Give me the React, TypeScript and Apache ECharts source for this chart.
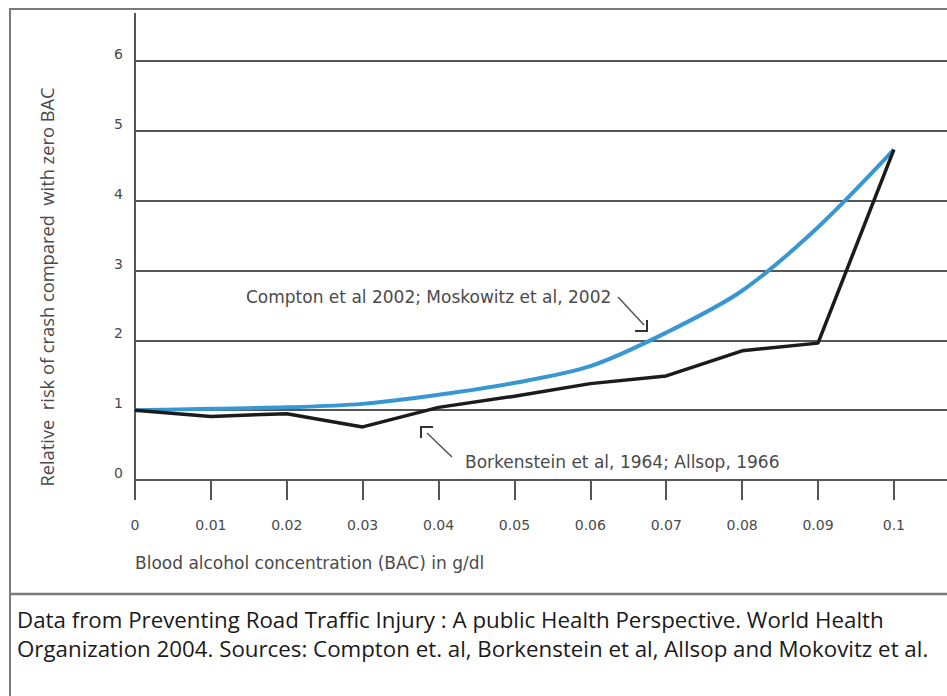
import React, { useEffect, useRef } from "react";
import * as echarts from "echarts";

const bac = [0, 0.01, 0.02, 0.03, 0.04, 0.05, 0.06, 0.07, 0.08, 0.09, 0.1];
const compton = [1.0, 1.02, 1.04, 1.09, 1.22, 1.39, 1.63, 2.11, 2.71, 3.62, 4.73];
const borkenstein = [1.0, 0.91, 0.95, 0.76, 1.04, 1.2, 1.38, 1.49, 1.85, 1.96, 4.73];
const xTickValues = [0, 0.01, 0.02, 0.03, 0.04, 0.05, 0.06, 0.07, 0.08, 0.09, 0.1];
const yTickValues = [0, 1, 2, 3, 4, 5, 6];

const xAxisTitle = "Blood alcohol concentration (BAC) in g/dl";
const yAxisTitle = "Relative  risk of crash compared  with zero BAC";
const comptonLabel = "Compton et al 2002; Moskowitz et al, 2002";
const borkensteinLabel = "Borkenstein et al, 1964; Allsop, 1966";
const captionLine1 = "Data from Preventing Road Traffic Injury : A public Health Perspective. World Health";
const captionLine2 = "Organization 2004. Sources: Compton et. al, Borkenstein et al, Allsop and Mokovitz et al.";

const chartFont = "'DejaVu Sans', 'Open Sans', sans-serif";
const captionFont = "'Open Sans', 'Noto Sans', sans-serif";
const textGrey = "#4a4a4a";
const axisGrey = "#555555";

export default function App() {
  const ref = useRef<HTMLDivElement>(null);

  useEffect(() => {
    if (!ref.current) return;
    const chart = echarts.init(ref.current, null, { renderer: "svg" });
    const fmt = (v: number) => (Math.round(v * 100) / 100).toString();
    chart.setOption({
      animation: false,
      backgroundColor: "#ffffff",
      grid: { left: 135, top: 61, width: 813, height: 419, containLabel: false },
      xAxis: {
        type: "value",
        min: 0,
        max: 0.107,
        axisLine: { onZero: false, lineStyle: { color: axisGrey, width: 2 } },
        axisTick: { show: true, length: 20, lineStyle: { color: axisGrey, width: 2 }, customValues: xTickValues },
        axisLabel: {
          customValues: xTickValues,
          formatter: (v: number) => fmt(v),
          color: textGrey,
          fontFamily: chartFont,
          fontSize: 14,
          margin: 38,
        },
        splitLine: { show: false },
      },
      yAxis: {
        type: "value",
        min: 0,
        max: 6,
        interval: 1,
        axisLine: { show: true, lineStyle: { color: axisGrey, width: 2 } },
        axisTick: { show: false },
        axisLabel: {
          color: textGrey,
          fontFamily: chartFont,
          fontSize: 14,
          margin: 12,
          verticalAlign: "bottom",
          customValues: yTickValues,
        },
        splitLine: { show: true, lineStyle: { color: axisGrey, width: 2 } },
      },
      series: [
        {
          name: "Compton et al 2002; Moskowitz et al, 2002",
          type: "line",
          data: bac.map((x, i) => [x, compton[i]]),
          smooth: 0.3,
          symbol: "none",
          z: 3,
          lineStyle: { color: "#3797d3", width: 4 },
        },
        {
          name: "Borkenstein et al, 1964; Allsop, 1966",
          type: "line",
          data: bac.map((x, i) => [x, borkenstein[i]]),
          symbol: "none",
          z: 4,
          lineStyle: { color: "#1b1b1b", width: 3.5 },
        },
      ],
      graphic: [
        {
          type: "rect",
          shape: { x: 10, y: 9, width: 1000, height: 800 },
          style: { fill: "none", stroke: "#7a7a7a", lineWidth: 2 },
          z: 1,
        },
        {
          type: "line",
          shape: { x1: 10, y1: 594, x2: 960, y2: 594 },
          style: { stroke: "#7a7a7a", lineWidth: 2.5 },
        },
        {
          type: "line",
          shape: { x1: 135, y1: 13, x2: 135, y2: 62 },
          style: { stroke: axisGrey, lineWidth: 2 },
        },
        {
          type: "text",
          x: 246,
          y: 297,
          style: { text: comptonLabel, fill: textGrey, font: `17px ${chartFont}`, textVerticalAlign: "middle" },
        },
        {
          type: "line",
          shape: { x1: 618, y1: 297, x2: 644, y2: 325 },
          style: { stroke: "#555", lineWidth: 1.5 },
        },
        {
          type: "polyline",
          shape: { points: [[635, 331], [647, 331], [647, 320]] },
          style: { stroke: "#333", lineWidth: 2, fill: "none" },
        },
        {
          type: "text",
          x: 465,
          y: 462,
          style: { text: borkensteinLabel, fill: textGrey, font: `17px ${chartFont}`, textVerticalAlign: "middle" },
        },
        {
          type: "line",
          shape: { x1: 427, y1: 433, x2: 452, y2: 457 },
          style: { stroke: "#555", lineWidth: 1.5 },
        },
        {
          type: "polyline",
          shape: { points: [[421, 438], [421, 427], [433, 427]] },
          style: { stroke: "#333", lineWidth: 2, fill: "none" },
        },
        {
          type: "text",
          x: 135,
          y: 563,
          style: { text: xAxisTitle, fill: textGrey, font: `17px ${chartFont}`, textVerticalAlign: "middle" },
        },
        {
          type: "text",
          x: 46,
          y: 287,
          rotation: Math.PI / 2,
          style: {
            text: yAxisTitle,
            fill: textGrey,
            font: `18.3px ${captionFont}`,
            textAlign: "center",
            textVerticalAlign: "middle",
          },
        },
        {
          type: "text",
          x: 17,
          y: 619,
          style: { text: captionLine1, fill: "#1a1a1a", font: `22.3px ${captionFont}`, textVerticalAlign: "middle" },
        },
        {
          type: "text",
          x: 17,
          y: 648,
          style: { text: captionLine2, fill: "#1a1a1a", font: `22.3px ${captionFont}`, textVerticalAlign: "middle" },
        },
      ],
    });
    return () => chart.dispose();
  }, []);

  return (
    <div
      ref={ref}
      style={{ position: "fixed", left: 0, top: 0, width: 947, height: 696 }}
    />
  );
}
